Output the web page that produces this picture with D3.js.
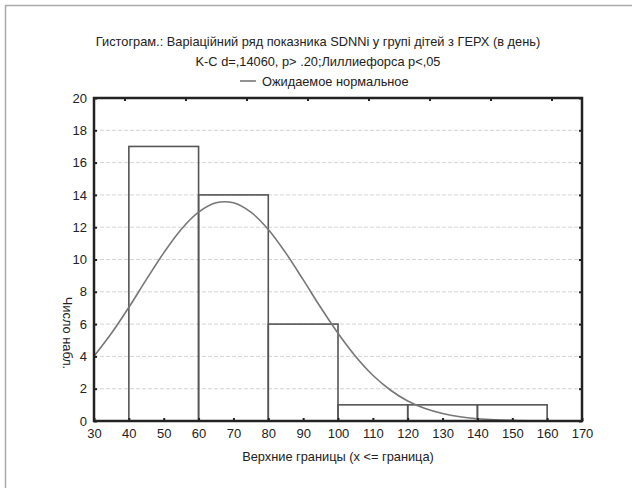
<!DOCTYPE html>
<html>
<head>
<meta charset="utf-8">
<script src="https://cdn.jsdelivr.net/npm/d3@7"></script>
<style>
	body { margin: 0; background: #fff; }
	svg { display: block; font-family: Arial, "Liberation Sans", sans-serif; }
</style>
</head>
<body>
<div id="chart"></div>
<script>
// histogram bins (lower, upper) and counts
var binLower = [40, 60, 80, 100, 120, 140];
var binUpper = [60, 80, 100, 120, 140, 160];
var counts = [17, 14, 6, 1, 1, 1];

// expected normal curve
var curveX = [30, 35, 40, 45, 50, 55, 60, 65, 70, 75, 80, 85, 90, 95, 100, 105, 110, 115, 120, 125, 130, 135, 140, 145, 150, 155, 160, 165, 170];
var curveY = [4.01, 5.43, 7.04, 8.75, 10.41, 11.86, 12.93, 13.51, 13.51, 12.93, 11.86, 10.41, 8.75, 7.04, 5.43, 4.01, 2.83, 1.92, 1.24, 0.77, 0.46, 0.26, 0.14, 0.07, 0.04, 0.02, 0.01, 0, 0];

var xTicks = [30, 40, 50, 60, 70, 80, 90, 100, 110, 120, 130, 140, 150, 160, 170];
var yTicks = [0, 2, 4, 6, 8, 10, 12, 14, 16, 18, 20];
var titleLines = [
	"Гистограм.: Варіаційний ряд показника SDNNi у групі дітей з ГЕРХ (в день)",
	"K-C d=,14060, p> .20;Лиллиефорса p<,05"
];
var legendLabel = "Ожидаемое нормальное";
var xLabel = "Верхние границы (x <= граница)";
var yLabel = "Число набл.";

var W = 632, H = 488;
var margins = { left: 94, right: 50, top: 98, bottom: 67 };

var svg = d3.select("#chart").append("svg")
	.attr("width", W)
	.attr("height", H);

// outer frame (only top/left edges visible)
svg.append("rect")
	.attr("x", 5.5).attr("y", 5.5)
	.attr("width", W + 20).attr("height", H + 20)
	.attr("fill", "none")
	.attr("stroke", "#aaa")
	.attr("stroke-width", 1.5);

var x = d3.scaleLinear().domain([30, 170]).range([margins.left, W - margins.right]);
var y = d3.scaleLinear().domain([0, 20]).range([H - margins.bottom, margins.top]);

// grid lines
svg.append("g").selectAll("line")
	.data(yTicks.filter(function(t) { return t > 0 && t < 20; })).enter()
	.append("line")
		.attr("x1", x(30)).attr("x2", x(170))
		.attr("y1", function(d) { return y(d); })
		.attr("y2", function(d) { return y(d); })
		.attr("stroke", "#d4d4d4")
		.attr("stroke-width", 1)
		.attr("stroke-dasharray", "4,2");

// bars
svg.append("g").selectAll("rect")
	.data(counts).enter()
	.append("rect")
		.attr("x", function(d, i) { return x(binLower[i]); })
		.attr("y", function(d) { return y(d); })
		.attr("width", function(d, i) { return x(binUpper[i]) - x(binLower[i]); })
		.attr("height", function(d) { return y(0) - y(d); })
		.attr("fill", "none")
		.attr("stroke", "#555")
		.attr("stroke-width", 1.6);

// expected normal curve
var line = d3.line()
	.x(function(d, i) { return x(curveX[i]); })
	.y(function(d) { return y(d); })
	.curve(d3.curveCatmullRom);
svg.append("path")
	.datum(curveY)
	.attr("d", line)
	.attr("fill", "none")
	.attr("stroke", "#777")
	.attr("stroke-width", 1.6);

// axes
var axisColor = "#222";
var bottomAxis = d3.axisBottom(x).tickValues(xTicks).tickSize(-3).tickPadding(8);
var leftAxis = d3.axisLeft(y).tickValues(yTicks).tickSize(-3).tickPadding(7);
var topAxis = d3.axisTop(d3.scaleLinear().domain([0, 8]).range([x(30), x(170)]))
	.tickValues([0.5, 1.5, 2.5, 3.5, 4.5, 5.5, 6.5, 7.5]).tickSize(-3).tickFormat("");
var rightAxis = d3.axisRight(y).tickValues(yTicks).tickSize(-3).tickFormat("");

function styleAxis(g) {
	g.select(".domain").attr("stroke", axisColor).attr("stroke-width", 2.5);
	g.selectAll(".tick line").attr("stroke", axisColor).attr("stroke-width", 2);
	g.selectAll(".tick text").attr("fill", "#222").style("font-size", "13px");
}

svg.append("g").attr("transform", "translate(0," + y(0) + ")").call(bottomAxis).call(styleAxis);
svg.append("g").attr("transform", "translate(" + x(30) + ",0)").call(leftAxis).call(styleAxis);
svg.append("g").attr("transform", "translate(0," + y(20) + ")").call(topAxis).call(styleAxis);
svg.append("g").attr("transform", "translate(" + x(170) + ",0)").call(rightAxis).call(styleAxis);
svg.selectAll(".domain").attr("d", null);
svg.append("rect")
	.attr("x", x(30)).attr("y", y(20))
	.attr("width", x(170) - x(30)).attr("height", y(0) - y(20))
	.attr("fill", "none")
	.attr("stroke", axisColor)
	.attr("stroke-width", 2.5);

// titles
svg.append("g").selectAll("text")
	.data(titleLines).enter()
	.append("text")
		.attr("x", 318)
		.attr("y", function(d, i) { return 46 + i * 20; })
		.attr("text-anchor", "middle")
		.attr("fill", "#222")
		.style("font-size", "12.8px")
		.text(function(d) { return d; });

// legend
svg.append("line")
	.attr("x1", 240).attr("x2", 256)
	.attr("y1", 81).attr("y2", 81)
	.attr("stroke", "#777")
	.attr("stroke-width", 1.6);
svg.append("text")
	.attr("x", 262).attr("y", 85.5)
	.attr("fill", "#222")
	.style("font-size", "12.8px")
	.text(legendLabel);

// axis labels
svg.append("text")
	.attr("x", (x(30) + x(170)) / 2).attr("y", 461)
	.attr("text-anchor", "middle")
	.attr("fill", "#222")
	.style("font-size", "12.8px")
	.text(xLabel);
svg.append("text")
	.attr("transform", "translate(63,333) rotate(90)")
	.attr("text-anchor", "middle")
	.attr("fill", "#222")
	.style("font-size", "12.8px")
	.text(yLabel);
</script>
</body>
</html>
